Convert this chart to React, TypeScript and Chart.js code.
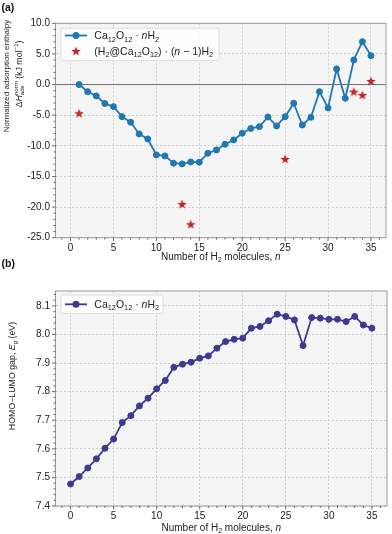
import React, { useEffect, useRef } from 'react';
import { Chart, registerables } from 'chart.js';
Chart.register(...registerables);

const FONT = '"Liberation Sans", Arial, Helvetica, sans-serif';
const BLUE = '#1f77b4';
const RED = '#c1272d';
const PURPLE = '#3f3990';
const GRID = '#c4c4c4';

// ---- data (a) ----
const nTop = [1, 2, 3, 4, 5, 6, 7, 8, 9, 10, 11, 12, 13, 14, 15, 16, 17, 18, 19, 20, 21, 22, 23, 24, 25, 26, 27, 28, 29, 30, 31, 32, 33, 34, 35];
const enthalpyCa = [0.0, -1.16, -1.86, -3.09, -3.6, -5.24, -6.15, -8.06, -8.88, -11.49, -11.65, -12.84, -12.95, -12.63, -12.68, -11.21, -10.67, -9.75, -9.04, -7.95, -7.17, -6.87, -5.29, -6.76, -5.24, -3.05, -6.6, -5.34, -1.16, -3.82, 2.55, -2.24, 4.02, 7.0, 4.72];
const nStar = [1, 13, 14, 25, 33, 34, 35];
const enthalpyStar = [-4.68, -19.5, -22.8, -12.15, -1.16, -1.7, 0.59];
const xTickValues = [0, 5, 10, 15, 20, 25, 30, 35];
const yTicksTop = [-25, -20, -15, -10, -5, 0, 5, 10];

// ---- data (b) ----
const nBottom = [0, 1, 2, 3, 4, 5, 6, 7, 8, 9, 10, 11, 12, 13, 14, 15, 16, 17, 18, 19, 20, 21, 22, 23, 24, 25, 26, 27, 28, 29, 30, 31, 32, 33, 34, 35];
const gapCa = [7.477, 7.503, 7.533, 7.565, 7.602, 7.634, 7.692, 7.716, 7.75, 7.777, 7.81, 7.839, 7.885, 7.896, 7.903, 7.917, 7.925, 7.952, 7.975, 7.983, 7.987, 8.022, 8.028, 8.048, 8.071, 8.063, 8.051, 7.961, 8.059, 8.057, 8.053, 8.053, 8.045, 8.063, 8.033, 8.022];
const yTicksBottom = [7.4, 7.5, 7.6, 7.7, 7.8, 7.9, 8.0, 8.1];

type Seg = { t: string; sub?: boolean; sup?: boolean; it?: boolean; bold?: boolean; stack?: [string, string] };

function fnt(size: number, it?: boolean, bold?: boolean) {
  return `${it ? 'italic ' : ''}${bold ? 'bold ' : ''}${size}px ${FONT}`;
}

function segWidth(ctx: CanvasRenderingContext2D, s: Seg, size: number) {
  if (s.stack) {
    ctx.font = fnt(size * 0.7);
    return Math.max(ctx.measureText(s.stack[0]).width, ctx.measureText(s.stack[1]).width);
  }
  const sz = s.sub || s.sup ? size * 0.7 : size;
  ctx.font = fnt(sz, s.it, s.bold);
  return ctx.measureText(s.t).width;
}

function drawRich(ctx: CanvasRenderingContext2D, segs: Seg[], x: number, cy: number, size: number, align: 'left' | 'center', color = '#222') {
  ctx.save();
  ctx.fillStyle = color;
  ctx.textBaseline = 'alphabetic';
  ctx.textAlign = 'left';
  const widths = segs.map((s) => segWidth(ctx, s, size));
  const total = widths.reduce((a, b) => a + b, 0);
  let cx = align === 'center' ? x - total / 2 : x;
  const base = cy + size * 0.36;
  segs.forEach((s, i) => {
    if (s.stack) {
      ctx.font = fnt(size * 0.7);
      ctx.fillText(s.stack[0], cx, base - size * 0.42);
      ctx.fillText(s.stack[1], cx, base + size * 0.28);
    } else if (s.sub) {
      ctx.font = fnt(size * 0.7, s.it, s.bold);
      ctx.fillText(s.t, cx, base + size * 0.22);
    } else if (s.sup) {
      ctx.font = fnt(size * 0.7, s.it, s.bold);
      ctx.fillText(s.t, cx, base - size * 0.4);
    } else {
      ctx.font = fnt(size, s.it, s.bold);
      ctx.fillText(s.t, cx, base);
    }
    cx += widths[i];
  });
  ctx.restore();
}

function makeStar(size: number, color: string) {
  const c = document.createElement('canvas');
  c.width = size;
  c.height = size;
  const g = c.getContext('2d')!;
  const R = size / 2;
  const r = R * 0.42;
  g.beginPath();
  for (let i = 0; i < 10; i++) {
    const ang = -Math.PI / 2 + (i * Math.PI) / 5;
    const rad = i % 2 ? r : R;
    g.lineTo(R + rad * Math.cos(ang), R + 0.5 + rad * Math.sin(ang));
  }
  g.closePath();
  g.fillStyle = color;
  g.fill();
  return c;
}

const caLabel: Seg[] = [{ t: 'Ca' }, { t: '12', sub: true }, { t: 'O' }, { t: '12', sub: true }, { t: ' \u00b7 ' }, { t: 'n', it: true }, { t: 'H' }, { t: '2', sub: true }];
const starLabel: Seg[] = [
  { t: '(H' }, { t: '2', sub: true }, { t: '@Ca' }, { t: '12', sub: true }, { t: 'O' }, { t: '12', sub: true }, { t: ') \u00b7 (' },
  { t: 'n', it: true }, { t: ' \u2212 1)H' }, { t: '2', sub: true },
];
const xTitle: Seg[] = [{ t: 'Number of H' }, { t: '2', sub: true }, { t: ' molecules, ' }, { t: 'n', it: true }];

interface DecorCfg {
  panel: string;
  zeroLine: boolean;
  yMinorStart: number;
  yMinorEnd: number;
  yMinorStep: number;
  yMajorEvery: number;
  yTitle: { segs: Seg[]; x: number; y: number; size: number }[];
  xTitleY: number;
  legend: { box: [number, number, number, number]; rows: { y: number; kind: 'line' | 'star'; color: string; segs: Seg[] }[] };
  star?: HTMLCanvasElement;
}

function makeDecor(cfg: DecorCfg) {
  return {
    id: 'decor',
    beforeDraw(chart: any) {
      const { ctx, chartArea: a } = chart;
      ctx.save();
      ctx.fillStyle = '#f5f5f5';
      ctx.fillRect(a.left, a.top, a.right - a.left, a.bottom - a.top);
      ctx.restore();
    },
    beforeDatasetsDraw(chart: any) {
      if (!cfg.zeroLine) return;
      const { ctx, chartArea: a } = chart;
      const y = chart.scales.y.getPixelForValue(0);
      ctx.save();
      ctx.strokeStyle = '#6e6e6e';
      ctx.lineWidth = 1;
      ctx.beginPath();
      ctx.moveTo(a.left, y);
      ctx.lineTo(a.right, y);
      ctx.stroke();
      ctx.restore();
    },
    afterDraw(chart: any) {
      const { ctx, chartArea: a } = chart;
      const xs = chart.scales.x;
      const ys = chart.scales.y;
      ctx.save();
      // frame
      ctx.strokeStyle = '#9a9a9a';
      ctx.lineWidth = 1;
      ctx.strokeRect(a.left, a.top, a.right - a.left, a.bottom - a.top);
      // ticks
      ctx.strokeStyle = '#444';
      ctx.lineWidth = 0.8;
      ctx.beginPath();
      for (let v = -1; v <= 36; v++) {
        const len = v % 5 === 0 ? 3.5 : 2;
        const px = xs.getPixelForValue(v);
        ctx.moveTo(px, a.bottom);
        ctx.lineTo(px, a.bottom + len);
      }
      const nSteps = Math.round((cfg.yMinorEnd - cfg.yMinorStart) / cfg.yMinorStep);
      for (let k = 0; k <= nSteps; k++) {
        const v = cfg.yMinorStart + k * cfg.yMinorStep;
        const len = k % cfg.yMajorEvery === 0 ? 3.5 : 2;
        const py = ys.getPixelForValue(v);
        ctx.moveTo(a.left, py);
        ctx.lineTo(a.left - len, py);
      }
      ctx.stroke();
      ctx.restore();

      // panel label
      drawRich(ctx, [{ t: cfg.panel, bold: true }], 1.5, cfg.panel === '(a)' ? 7.5 : 7.3, 10.5, 'left', '#111');
      // x title
      drawRich(ctx, xTitle, (a.left + a.right) / 2, cfg.xTitleY, 10, 'center');
      // y titles
      cfg.yTitle.forEach((t) => {
        ctx.save();
        ctx.translate(t.x, t.y);
        ctx.rotate(-Math.PI / 2);
        drawRich(ctx, t.segs, 0, 0, t.size, 'center');
        ctx.restore();
      });
      // legend
      const [bx, by, bw, bh] = cfg.legend.box;
      ctx.save();
      ctx.fillStyle = 'rgba(255,255,255,0.85)';
      ctx.strokeStyle = '#dcdcdc';
      ctx.lineWidth = 1;
      ctx.beginPath();
      (ctx as any).roundRect ? (ctx as any).roundRect(bx, by, bw, bh, 2) : ctx.rect(bx, by, bw, bh);
      ctx.fill();
      ctx.stroke();
      cfg.legend.rows.forEach((r) => {
        if (r.kind === 'line') {
          ctx.strokeStyle = r.color;
          ctx.lineWidth = 1.8;
          ctx.beginPath();
          ctx.moveTo(65, r.y);
          ctx.lineTo(87, r.y);
          ctx.stroke();
          ctx.fillStyle = r.color;
          ctx.beginPath();
          ctx.arc(76, r.y, 3.5, 0, Math.PI * 2);
          ctx.fill();
        } else if (cfg.star) {
          ctx.drawImage(cfg.star, 76 - cfg.star.width / 2, r.y - cfg.star.height / 2);
        }
        drawRich(ctx, r.segs, 94.3, r.y, 10.5, 'left');
      });
      ctx.restore();
    },
  };
}

function baseScales(xHeight: number, yTicks: number[], yMin: number, yMax: number) {
  return {
    x: {
      type: 'linear' as const,
      min: -1.75,
      max: 36.75,
      afterBuildTicks: (s: any) => {
        s.ticks = xTickValues.map((v) => ({ value: v }));
      },
      afterFit: (s: any) => {
        s.height = xHeight;
      },
      grid: { color: GRID, lineWidth: 0.8, drawTicks: false },
      border: { display: false, dash: [2, 2] },
      ticks: { padding: 4.5, color: '#222', font: { family: FONT, size: 10 }, maxRotation: 0, callback: (v: any) => String(v) },
    },
    y: {
      type: 'linear' as const,
      min: yMin,
      max: yMax,
      afterBuildTicks: (s: any) => {
        s.ticks = yTicks.map((v) => ({ value: v }));
      },
      afterFit: (s: any) => {
        s.width = 55.5;
      },
      grid: { color: GRID, lineWidth: 0.8, drawTicks: false },
      border: { display: false, dash: [2, 2] },
      ticks: { padding: 5.5, color: '#222', font: { family: FONT, size: 10 }, callback: (v: any) => Number(v).toFixed(1) },
    },
  };
}

export default function App() {
  const topRef = useRef<HTMLCanvasElement>(null);
  const botRef = useRef<HTMLCanvasElement>(null);

  useEffect(() => {
    const star = makeStar(10, RED);
    const top = new Chart(topRef.current!, {
      type: 'scatter',
      data: {
        datasets: [
          {
            label: 'Ca12O12·nH2',
            data: nTop.map((n, i) => ({ x: n, y: enthalpyCa[i] })),
            showLine: true,
            borderColor: BLUE,
            backgroundColor: BLUE,
            borderWidth: 1.8,
            pointRadius: 3,
            pointBorderWidth: 1,
            pointBorderColor: BLUE,
            pointBackgroundColor: BLUE,
          },
          {
            label: '(H2@Ca12O12)·(n−1)H2',
            data: nStar.map((n, i) => ({ x: n, y: enthalpyStar[i] })),
            showLine: false,
            pointStyle: star as any,
            pointRadius: 5,
            backgroundColor: RED,
            borderColor: RED,
          },
        ],
      },
      options: {
        responsive: false,
        animation: false,
        devicePixelRatio: 1,
        events: [],
        layout: { padding: { top: 23.3, right: 2, left: 0, bottom: 0 } },
        plugins: { legend: { display: false }, tooltip: { enabled: false } },
        scales: baseScales(25.3, yTicksTop, -25, 10) as any,
      },
      plugins: [
        makeDecor({
          panel: '(a)',
          zeroLine: true,
          yMinorStart: -25,
          yMinorEnd: 10,
          yMinorStep: 1,
          yMajorEvery: 5,
          yTitle: [
            { segs: [{ t: 'Normalized adsorption enthalpy' }], x: 6.5, y: 76, size: 8 },
            {
              segs: [{ t: '\u0394' }, { t: 'H', it: true }, { t: '', stack: ['norm', 'ads'] }, { t: ' (kJ mol' }, { t: '\u22121', sup: true }, { t: ')' }],
              x: 18.5,
              y: 74,
              size: 8.8,
            },
          ],
          xTitleY: 256,
          legend: {
            box: [61, 28.3, 158, 32.4],
            rows: [
              { y: 35.5, kind: 'line', color: BLUE, segs: caLabel },
              { y: 51, kind: 'star', color: RED, segs: starLabel },
            ],
          },
          star,
        }) as any,
      ],
    });

    const bot = new Chart(botRef.current!, {
      type: 'scatter',
      data: {
        datasets: [
          {
            label: 'Ca12O12·nH2',
            data: nBottom.map((n, i) => ({ x: n, y: gapCa[i] })),
            showLine: true,
            borderColor: PURPLE,
            backgroundColor: PURPLE,
            borderWidth: 1.8,
            pointRadius: 3,
            pointBorderWidth: 1,
            pointBorderColor: PURPLE,
            pointBackgroundColor: PURPLE,
          },
        ],
      },
      options: {
        responsive: false,
        animation: false,
        devicePixelRatio: 1,
        events: [],
        layout: { padding: { top: 35, right: 2, left: 0, bottom: 0 } },
        plugins: { legend: { display: false }, tooltip: { enabled: false } },
        scales: baseScales(28, yTicksBottom, 7.4, 8.152) as any,
      },
      plugins: [
        makeDecor({
          panel: '(b)',
          zeroLine: false,
          yMinorStart: 7.4,
          yMinorEnd: 8.14,
          yMinorStep: 0.02,
          yMajorEvery: 5,
          yTitle: [
            {
              segs: [{ t: 'HOMO\u2212LUMO gap, ' }, { t: 'E', it: true }, { t: 'g', sub: true, it: true }, { t: ' (eV)' }],
              x: 12,
              y: 120,
              size: 8.8,
            },
          ],
          xTitleY: 271,
          legend: {
            box: [61, 39, 102, 18.5],
            rows: [{ y: 48.3, kind: 'line', color: PURPLE, segs: caLabel }],
          },
        }) as any,
      ],
    });

    return () => {
      top.destroy();
      bot.destroy();
    };
  }, []);

  return (
    <div style={{ position: 'absolute', left: 0, top: 0, width: 392, height: 534, background: '#fff' }}>
      <canvas ref={topRef} width={392} height={263} style={{ position: 'absolute', left: 0, top: 0, width: 392, height: 263 }} />
      <canvas ref={botRef} width={392} height={278} style={{ position: 'absolute', left: 0, top: 256, width: 392, height: 278 }} />
    </div>
  );
}
